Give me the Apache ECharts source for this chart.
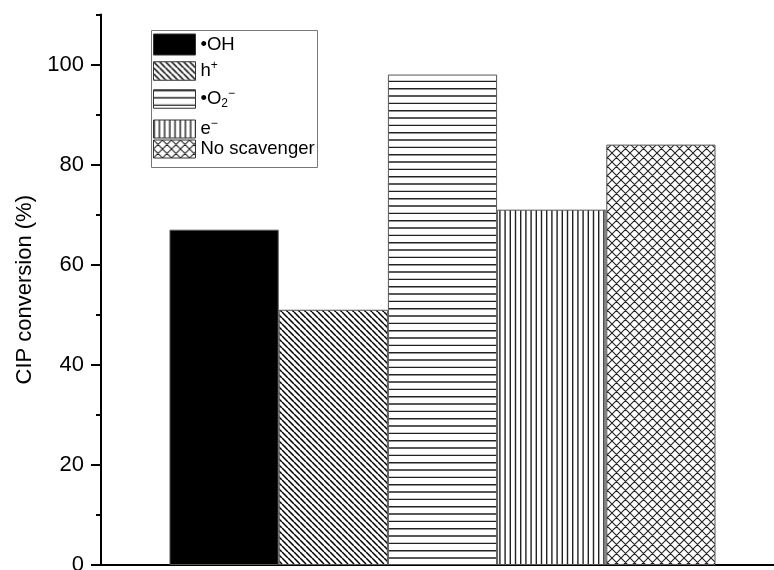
<!DOCTYPE html>
<html>
<head>
<meta charset="utf-8">
<script src="https://cdn.jsdelivr.net/npm/echarts@6/dist/echarts.min.js"></script>
<style>
  html, body { margin: 0; padding: 0; background: #fff; }
  #chart { width: 774px; height: 570px; }
</style>
</head>
<body>
<div id="chart"></div>
<script>
// Scavenger experiments: CIP conversion with each radical scavenger
const scavengers = ['•OH', 'h+', '•O2−', 'e−', 'No scavenger'];
const conversion = [67, 51, 98, 71, 84];
const yTickValues = [0, 20, 40, 60, 80, 100];
// legend labels with rich-text super/subscripts
const legendLabels = ['•OH', 'h{sup|+}', '•O{sub|2}{sup|−}', 'e{sup|−}', 'No scavenger'];

const FONT = '"Liberation Sans", Arial, sans-serif';

// ---- hatch fills ----
function makeTile(w, h, draw) {
  const c = document.createElement('canvas');
  c.width = w; c.height = h;
  const g = c.getContext('2d');
  g.fillStyle = '#fff';
  g.fillRect(0, 0, w, h);
  draw(g, w, h);
  return c;
}
const diagTile = makeTile(6, 6, (g, w, h) => {
  g.strokeStyle = '#000'; g.lineWidth = 1.5;
  g.beginPath();
  for (let k = -1; k <= 1; k++) { g.moveTo(k * w, 0); g.lineTo(k * w + w, h); }
  g.stroke();
});
const horizTile = makeTile(4, 22, (g, w, h) => {
  g.strokeStyle = '#222'; g.lineWidth = 1.4;
  g.beginPath();
  for (let k = 0; k < 3; k++) { const y = 0.7 + k * h / 3; g.moveTo(0, y); g.lineTo(w, y); }
  g.stroke();
});
const vertTile = makeTile(26, 4, (g, w, h) => {
  g.strokeStyle = '#222'; g.lineWidth = 1.4;
  g.beginPath();
  for (let k = 0; k < 5; k++) { const x = 0.7 + k * w / 5; g.moveTo(x, 0); g.lineTo(x, h); }
  g.stroke();
});
const crossTile = makeTile(9, 9, (g, w, h) => {
  g.strokeStyle = '#222'; g.lineWidth = 1.1;
  g.beginPath();
  for (let k = -1; k <= 1; k++) {
    g.moveTo(k * w, 0); g.lineTo(k * w + w, h);
    g.moveTo(k * w + w, 0); g.lineTo(k * w, h);
  }
  g.stroke();
});
const fills = [
  '#000000',
  { image: diagTile, repeat: 'repeat' },
  { image: horizTile, repeat: 'repeat' },
  { image: vertTile, repeat: 'repeat' },
  { image: crossTile, repeat: 'repeat' }
];

// ---- legend layout ----
const legendLeft = 153;
const legendTop = [33.5, 60, 88, 118, 138];
const legendIconH = [21, 18.5, 18.5, 18, 18];

const legendRich = {
  sup: { fontSize: 12, lineHeight: 14, verticalAlign: 'top', fontFamily: FONT, color: '#000' },
  sub: { fontSize: 12, lineHeight: 6, verticalAlign: 'bottom', fontFamily: FONT, color: '#000' }
};

const chart = echarts.init(document.getElementById('chart'), null, { renderer: 'canvas' });

chart.setOption({
  animation: false,
  backgroundColor: '#fff',
  grid: { left: 101, right: -10, top: 14.5, bottom: 5, containLabel: false, outerBoundsMode: 'none' },
  graphic: [{
    type: 'rect',
    shape: { x: 151.5, y: 30.5, width: 166, height: 137 },
    style: { fill: 'none', stroke: '#777', lineWidth: 1 },
    z: 1
  }],
  legend: scavengers.map((name, i) => ({
    data: [name],
    left: legendLeft,
    top: legendTop[i],
    orient: 'vertical',
    padding: 0,
    itemWidth: 42,
    itemHeight: legendIconH[i],
    itemGap: 0,
    selectedMode: false,
    icon: 'rect',
    formatter: () => legendLabels[i],
    itemStyle: { borderColor: '#333', borderWidth: 1 },
    textStyle: { fontFamily: FONT, fontSize: 18.5, lineHeight: 22, color: '#000', rich: legendRich }
  })),
  xAxis: {
    type: 'category',
    data: [''],
    axisLine: { lineStyle: { color: '#000', width: 2 } },
    axisTick: { show: false },
    axisLabel: { show: false },
    splitLine: { show: false }
  },
  yAxis: [
    {
      type: 'value',
      min: 0,
      max: 110,
      interval: 20,
      position: 'left',
      name: 'CIP conversion (%)',
      nameLocation: 'middle',
      nameGap: 62,
      nameTextStyle: { fontFamily: FONT, fontSize: 22, color: '#000' },
      axisLine: { show: true, lineStyle: { color: '#000', width: 2 } },
      axisTick: { show: true, length: 10, customValues: yTickValues, lineStyle: { color: '#000', width: 2 } },
      axisLabel: { show: true, margin: 17, customValues: yTickValues, fontFamily: FONT, fontSize: 22, color: '#000' },
      splitLine: { show: false }
    },
    {
      // minor ticks every 10
      type: 'value',
      min: 0,
      max: 110,
      interval: 10,
      position: 'left',
      axisLine: { show: false },
      axisTick: { show: true, length: 5, lineStyle: { color: '#000', width: 2 } },
      axisLabel: { show: false },
      splitLine: { show: false }
    }
  ],
  series: scavengers.map((name, i) => ({
    type: 'bar',
    name: name,
    yAxisIndex: 0,
    data: [conversion[i]],
    barWidth: 109.2,
    barGap: '0%',
    itemStyle: { color: fills[i], borderColor: '#555', borderWidth: 1 }
  }))
});
</script>
</body>
</html>
